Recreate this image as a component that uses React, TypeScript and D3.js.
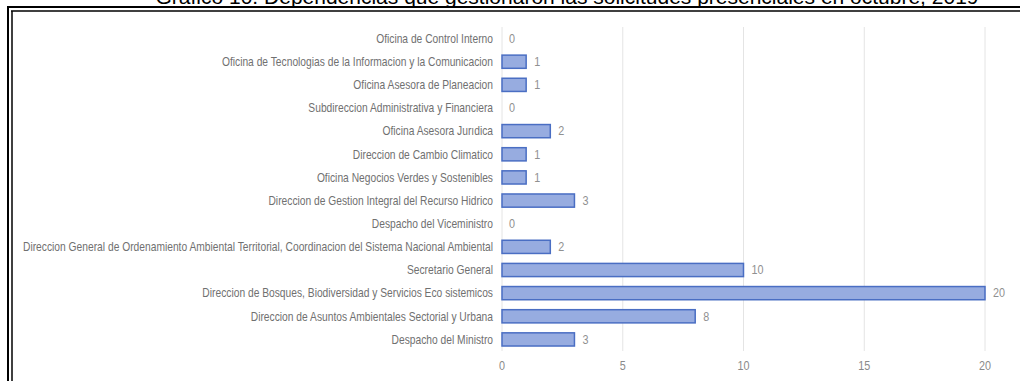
import React from "react";
import * as d3 from "d3";

const categories: string[] = [
  "Oficina de Control Interno",
  "Oficina de Tecnologias de la Informacion y la Comunicacion",
  "Oficina Asesora de Planeacion",
  "Subdireccion Administrativa y Financiera",
  "Oficina Asesora Jurıdica",
  "Direccion de Cambio Climatico",
  "Oficina Negocios Verdes y Sostenibles",
  "Direccion de Gestion Integral del Recurso Hidrico",
  "Despacho del Viceministro",
  "Direccion General de Ordenamiento Ambiental Territorial, Coordinacion del Sistema Nacional Ambiental",
  "Secretario General",
  "Direccion de Bosques, Biodiversidad y Servicios Eco sistemicos",
  "Direccion de Asuntos Ambientales Sectorial y Urbana",
  "Despacho del Ministro",
];
const values: number[] = [0, 1, 1, 0, 2, 1, 1, 3, 0, 2, 10, 20, 8, 3];
const xTicks: number[] = [0, 5, 10, 15, 20];
const title = "Gráfico 10. Dependencias que gestionaron las solicitudes presenciales en octubre, 2019";

const W = 1020;
const H = 381;
const plot = { left: 502, right: 985, top: 27, bottom: 351 };

export default function App() {
  const x = d3.scaleLinear().domain([0, 20]).range([plot.left, plot.right]);
  const y = d3.scaleBand<string>().domain(categories).range([plot.top, plot.bottom]).paddingInner(0.43).paddingOuter(0.215);
  const labelFont = "'Liberation Sans', Arial, sans-serif";
  return (
    <svg width={W} height={H} style={{ position: "absolute", left: 0, top: 0, background: "#fff" }}>
      <text x={567} y={4} textAnchor="middle" fontFamily="'Liberation Sans', Arial, sans-serif" fontSize={21} fill="#000">
        {title}
      </text>
      {/* frame */}
      <line x1={7} x2={W} y1={7} y2={7} stroke="#000" strokeWidth={2} />
      <line x1={11} x2={W} y1={11} y2={11} stroke="#000" strokeWidth={1.5} />
      <line x1={8} x2={8} y1={7} y2={H} stroke="#000" strokeWidth={2} />
      <line x1={12} x2={12} y1={11} y2={H} stroke="#000" strokeWidth={1.5} />
      {/* gridlines */}
      {xTicks.map((t) => (
        <line key={"g" + t} x1={x(t)} x2={x(t)} y1={plot.top} y2={plot.bottom} stroke="#e4e4e4" strokeWidth={1} />
      ))}
      {xTicks.map((t) => (
        <g key={"t" + t} transform={`translate(${x(t)},370) scale(0.9,1)`}>
          <text x={0} y={0} textAnchor="middle" fontFamily={labelFont} fontSize={12} fill="#8a8a8a">
            {t}
          </text>
        </g>
      ))}
      {categories.map((c, i) => {
        const yy = y(c)!;
        const bw = y.bandwidth();
        return (
          <g key={c}>
            <g transform={`translate(493,${yy + bw / 2 + 4.3}) scale(0.855,1)`}>
              <text x={0} y={0} textAnchor="end" fontFamily={labelFont} fontSize={12} fill="#707070">
                {c}
              </text>
            </g>
            {values[i] > 0 && (
              <rect x={x(0)} y={yy} width={x(values[i]) - x(0)} height={bw} fill="#97ace0" stroke="#4a6ec3" strokeWidth={1.5} />
            )}
            <g transform={`translate(${x(values[i]) + (values[i] > 0 ? 8 : 7)},${yy + bw / 2 + 4.3}) scale(0.9,1)`}>
              <text x={0} y={0} fontFamily={labelFont} fontSize={12} fill="#909090">
                {values[i]}
              </text>
            </g>
          </g>
        );
      })}
    </svg>
  );
}
